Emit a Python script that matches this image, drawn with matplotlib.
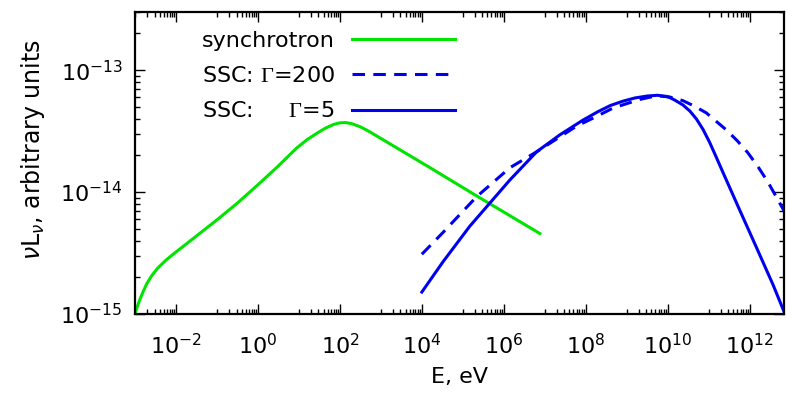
import numpy as np
import matplotlib
matplotlib.use('Agg')
import matplotlib.pyplot as plt
import matplotlib.ticker as plticker

plt.rcParams['font.family'] = ['DejaVu Sans']
plt.rcParams['mathtext.fontset'] = 'custom'
plt.rcParams['mathtext.rm'] = 'Liberation Serif'
plt.rcParams['mathtext.sf'] = 'DejaVu Sans'
plt.rcParams['mathtext.it'] = 'DejaVu Sans:italic'
plt.rcParams['axes.unicode_minus'] = False
plt.rcParams['lines.scale_dashes'] = False

# curves, as log10(E/eV) and log10(nu L_nu)
sync_logE = [-3.00, -2.95, -2.88, -2.80, -2.71, -2.60, -2.45, -2.25, -2.07, -1.50, -1.00, -0.50,
             0.00, 0.50, 0.94, 1.20, 1.45, 1.65, 1.85, 2.00, 2.15, 2.30, 2.50, 2.70, 2.90, 3.10,
             3.40, 4.20, 5.33, 6.88]
sync_logL = [-15.00, -14.945, -14.88, -14.815, -14.75, -14.69, -14.625, -14.56, -14.51, -14.36,
             -14.228, -14.09, -13.94, -13.785, -13.64, -13.57, -13.515, -13.475, -13.445, -13.432,
             -13.43, -13.44, -13.465, -13.50, -13.54, -13.58, -13.64, -13.80, -14.03, -14.34]

ssc200_logE = [4.00, 4.52, 5.33, 6.15, 6.80, 7.77, 8.26, 8.67, 9.32, 9.72, 10.05,
               10.37, 10.65, 10.94, 11.43, 11.70, 11.95, 12.20, 12.45, 12.65, 12.85]
ssc200_logL = [-14.51, -14.33, -14.04, -13.80, -13.67, -13.46, -13.38, -13.31, -13.24, -13.21, -13.22,
               -13.25, -13.295, -13.35, -13.49, -13.58, -13.675, -13.79, -13.92, -14.04, -14.16]

ssc5_logE = [4.00, 4.52, 5.17, 5.66, 6.15, 6.80, 7.37, 7.93, 8.30, 8.60, 8.90, 9.20, 9.50,
             9.75, 9.97, 10.07, 10.17, 10.37, 10.54, 10.70, 10.86, 11.02, 11.18, 11.35,
             11.76, 12.16, 12.57, 12.85]
ssc5_logL = [-14.82, -14.57, -14.28, -14.09, -13.90, -13.67, -13.53, -13.41, -13.34, -13.29, -13.255,
             -13.228, -13.212, -13.206, -13.215, -13.228, -13.245, -13.285, -13.335, -13.40, -13.485,
             -13.59, -13.71, -13.84, -14.15, -14.45, -14.76, -14.99]

labels = ['synchrotron', r'SSC: $\Gamma$=200', r'SSC:     $\Gamma$=5']

green = '#00e400'
blue = '#0000f0'

fig, ax = plt.subplots(figsize=(8, 3.93), dpi=100)
fig.subplots_adjust(left=135 / 800, right=784.5 / 800, top=1 - 12 / 393, bottom=1 - 314 / 393)

ax.plot(10 ** np.array(sync_logE), 10 ** np.array(sync_logL), color=green, lw=2.2, label=labels[0])
ax.plot(10 ** np.array(ssc200_logE), 10 ** np.array(ssc200_logL), color=blue, lw=2.2,
        dashes=(9, 6), label=labels[1])
ax.plot(10 ** np.array(ssc5_logE), 10 ** np.array(ssc5_logL), color=blue, lw=2.2, label=labels[2])

ax.set_xscale('log')
ax.set_yscale('log')
ax.set_xlim(1e-3, 10 ** 12.85)
ax.set_ylim(1e-15, 3e-13)

# gnuplot style ticks: majors every two decades, minors only in the odd decades
ax.xaxis.set_major_locator(plticker.FixedLocator([10.0 ** k for k in range(-2, 13, 2)]))
xminor = [m * 10.0 ** k for k in range(-3, 12, 2) for m in range(1, 10)]
ax.xaxis.set_minor_locator(plticker.FixedLocator(xminor))
ax.xaxis.set_minor_formatter(plticker.NullFormatter())
ax.yaxis.set_major_locator(plticker.FixedLocator([1e-15, 1e-14, 1e-13]))
ax.yaxis.set_minor_locator(plticker.LogLocator(base=10, subs=range(2, 10)))
ax.yaxis.set_minor_formatter(plticker.NullFormatter())

ax.tick_params(which='both', direction='in', top=True, right=True, width=1.0, labelsize=16)
ax.tick_params(which='major', length=7)
ax.tick_params(which='minor', length=3.5)
ax.tick_params(axis='x', which='major', pad=14)
ax.tick_params(axis='y', which='major', pad=9)
for s in ax.spines.values():
    s.set_linewidth(1.6)

ax.set_xlabel('E, eV', fontsize=16, labelpad=6)
ax.set_ylabel(r'$\nu\mathsf{L}_{\nu}$, arbitrary units', fontsize=17)
ax.yaxis.set_label_coords(-0.136, 0.545)

leg = ax.legend(loc='upper right', bbox_to_anchor=(0.4927, 0.938), frameon=False,
                markerfirst=False, fontsize=16, handlelength=4.64, handletextpad=0.77,
                labelspacing=0.69, borderpad=0, borderaxespad=0)

plt.savefig('out.png', dpi=100)
